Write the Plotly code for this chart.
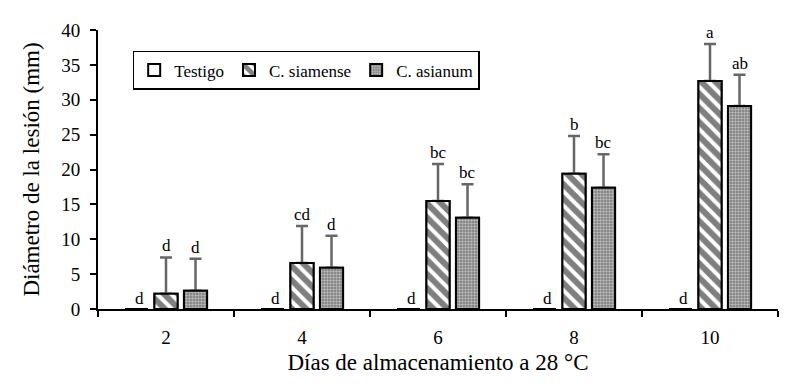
import plotly.graph_objects as go

days = ["2", "4", "6", "8", "10"]
testigo = [0, 0, 0, 0, 0]
siamense = [2.2, 6.6, 15.5, 19.4, 32.7]
siamense_err = [5.2, 5.3, 5.3, 5.4, 5.3]
asianum = [2.6, 5.9, 13.1, 17.4, 29.1]
asianum_err = [4.6, 4.6, 4.8, 4.8, 4.5]
lab_testigo = ["d", "d", "d", "d", "d"]
lab_siamense = ["d", "cd", "bc", "b", "a"]
lab_asianum = ["d", "d", "bc", "bc", "ab"]

SLOT = 0.217
BW = 0.17
FONT = "Liberation Serif"
ERRC = "#666666"

fig = go.Figure()


def add_bars(name, vals, offset, pattern, err=None, showlegend=True, fill="white"):
    kw = {}
    if err is not None:
        kw["error_y"] = dict(type="data", array=err, arrayminus=[0] * len(err),
                             symmetric=False, color=ERRC, thickness=2.5, width=6)
    fig.add_trace(go.Bar(
        x=days, y=vals, name=name, width=BW, offset=offset - BW / 2,
        marker=dict(color=fill, line=dict(color="black", width=2), pattern=pattern),
        showlegend=showlegend, **kw))


add_bars("Testigo", testigo, -SLOT, dict(shape=""))
siam_pat = dict(shape="\\", fgcolor="black", bgcolor="white", size=10, solidity=0.6)
asi_pat = dict(shape=".", fgcolor="white", bgcolor="#777777", size=3, solidity=0.5)
add_bars("C. siamense", siamense, 0, siam_pat, err=siamense_err)
add_bars("C. asianum", asianum, SLOT, asi_pat, err=asianum_err)
# redraw bars on top to hide the lower cap of the one-sided error bars
add_bars("C. siamense", siamense, 0, siam_pat, showlegend=False)
add_bars("C. asianum", asianum, SLOT, asi_pat, showlegend=False)

annotations = []
for i in range(len(days)):
    annotations.append(dict(x=i - SLOT, y=testigo[i], text=lab_testigo[i], xref="x", yref="y",
                            showarrow=False, yanchor="bottom", xshift=3, yshift=-1,
                            font=dict(family=FONT, size=17, color="black")))
    annotations.append(dict(x=i, y=siamense[i] + siamense_err[i], text=lab_siamense[i],
                            xref="x", yref="y", showarrow=False, yanchor="bottom", yshift=0,
                            font=dict(family=FONT, size=17, color="black")))
    annotations.append(dict(x=i + SLOT, y=asianum[i] + asianum_err[i], text=lab_asianum[i],
                            xref="x", yref="y", showarrow=False, yanchor="bottom", yshift=0,
                            font=dict(family=FONT, size=17, color="black")))

fig.update_layout(
    width=798, height=392,
    margin=dict(l=90, r=28, t=14, b=91),
    paper_bgcolor="white", plot_bgcolor="white",
    barmode="overlay",
    font=dict(family=FONT, size=19, color="black"),
    annotations=annotations,
    legend=dict(orientation="h", x=0.051, y=0.925, xanchor="left", yanchor="top",
                bordercolor="black", borderwidth=1.5, bgcolor="white",
                font=dict(family=FONT, size=17), itemwidth=30, tracegroupgap=0),
    xaxis=dict(type="category", showline=True, linecolor="black", linewidth=2,
               ticks="outside", tickson="boundaries", ticklen=6, tickwidth=2, tickcolor="black",
               showgrid=False, tickfont=dict(family=FONT, size=19), ticklabelstandoff=10,
               title=dict(text="Días de almacenamiento a 28 °C", font=dict(family=FONT, size=23),
                          standoff=7)),
    yaxis=dict(range=[0, 40], dtick=5, showline=True, linecolor="black", linewidth=2,
               ticks="outside", ticklen=6, tickwidth=2, tickcolor="black", showgrid=False,
               zeroline=False, tickfont=dict(family=FONT, size=19), ticklabelstandoff=6,
               title=dict(text="Diámetro de la lesión (mm)", font=dict(family=FONT, size=23),
                          standoff=15)),
)

fig.write_html("out.html")
